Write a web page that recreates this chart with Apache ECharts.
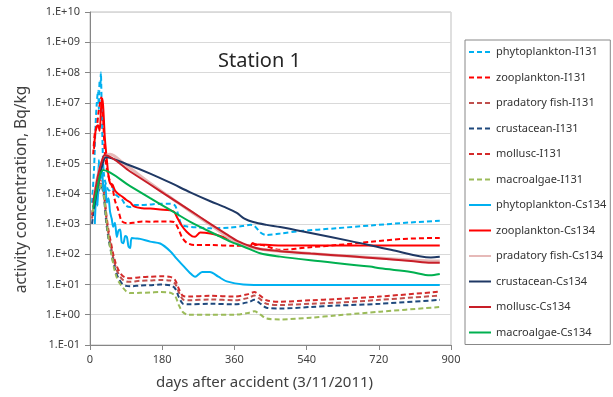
<!DOCTYPE html>
<html>
<head>
<meta charset="utf-8">
<script src="https://cdn.jsdelivr.net/npm/echarts@6/dist/echarts.min.js"></script>
<style>
html,body{margin:0;padding:0;background:#fff;}
#chart{width:613px;height:397px;}
</style>
</head>
<body>
<div id="chart"></div>
<script>
// ---- data ----
const seriesNames = [
  'phytoplankton-I131','zooplankton-I131','pradatory fish-I131','crustacean-I131','mollusc-I131','macroalgae-I131',
  'phytoplankton-Cs134','zooplankton-Cs134','pradatory fish-Cs134','crustacean-Cs134','mollusc-Cs134','macroalgae-Cs134'
];
const xTicks = [0, 180, 360, 540, 720, 900];

const phytoI131Days = [5,10,14,17,20,22,24,26,27,29,32,35,40,48,55,62,70,80,90,100,112,125,150,175,200,212,220,228,240,270,300,350,380,400,410,425,440,474,520,615,700,800,872];
const phytoI131 = [5000,63000,2e6,1e7,2.5e7,6.3e6,5e7,4e7,1e8,1e7,2e5,4e4,2e4,12600,16000,10000,8000,6300,4000,3600,4200,4200,4400,4600,4600,4000,2000,950,830,760,720,760,850,930,850,520,430,480,575,720,890,1120,1260];

const zooI131Days = [8,12,17,21,25,28,31,34,38,44,50,56,62,70,78,85,95,110,130,150,175,200,210,220,230,241,260,300,360,395,405,415,430,474,550,615,700,780,872];
const zooI131 = [2e5,1e6,1.6e6,4.5e6,1e7,1.5e7,8e6,1.3e6,1.5e5,5e4,2.5e4,1.6e4,6000,3000,1300,1100,1050,1100,1200,1180,1200,1200,1150,700,350,240,200,200,190,190,230,210,200,140,170,200,255,320,345];

const predI131Days = [5,12,20,28,34,40,46,52,58,64,70,80,90,100,125,150,175,200,212,222,232,245,300,360,395,410,425,440,474,550,615,723,872];
const predI131 = [1500,6000,15000,25000,12000,1900,480,190,76,38,24,15,12.6,12.2,13.2,13.5,14,13.5,10.6,5.3,3.2,3.0,3.2,3.0,3.6,4.3,3.2,2.3,2.1,2.3,2.5,3.1,4.3];

const crustI131Days = [5,12,20,28,34,40,46,52,58,64,70,80,90,100,125,150,175,200,212,222,232,245,300,360,395,410,425,440,474,550,615,723,872];
const crustI131 = [1000,4500,11000,18000,9000,1300,330,130,53,27,17,10.6,9,8.7,9.2,9.5,9.9,9.4,7.4,3.7,2.3,2.2,2.3,2.2,2.6,3.1,2.3,1.7,1.6,1.8,2.0,2.3,3.1];

const mollI131Days = [5,12,20,28,34,40,46,52,58,64,70,80,90,100,125,150,175,200,212,222,232,245,300,360,395,410,425,440,474,550,615,723,872];
const mollI131 = [2000,8000,20000,32000,16000,2500,630,250,100,50,32,20,16.6,16,17.4,18,18.6,17.8,14,7,4.2,4.0,4.2,4.0,4.8,5.6,4.2,3.0,2.7,3.0,3.3,4.0,5.8];

const macroI131Days = [5,10,16,24,30,36,42,48,54,60,66,72,80,90,100,125,150,175,200,212,222,232,245,300,360,395,410,425,440,474,550,615,723,872];
const macroI131 = [2500,3000,6000,15000,20000,6000,1000,250,90,35,18,12,8.5,6,5.2,5.3,5.4,5.6,5.3,4.2,2.0,1.2,1.0,1.0,1.0,1.15,1.3,1.0,0.75,0.7,0.8,0.95,1.26,1.8];

const phytoCsDays = [12,16,19,22,26,30,34,38,42,46,50,54,58,62,67,71,75,79,83,88,92,96,100,104,115,125,150,175,200,216,232,248,262,270,280,299,320,341,382,450,600,750,872];
const phytoCs = [1000,10000,4000,130000,30000,60000,12000,20000,5000,7000,2500,1500,800,1100,370,600,650,250,230,400,370,180,160,340,330,320,260,225,126,71,42,25,18,21,26,26,18,12.6,10,9.6,9.6,9.6,9.6];

const zooCsDays = [10,15,20,24,28,31,34,37,42,46,50,56,62,70,80,90,100,110,130,150,175,200,210,216,228,241,255,262,275,300,330,366,399,405,412,420,474,600,750,872];
const zooCs = [3e5,1.5e6,1.8e6,1.2e6,8e6,1.4e7,4e6,7e5,1.3e5,4e4,2.2e4,2e4,1.3e4,1e4,8000,6300,5200,3800,3300,3200,3000,2800,2500,1750,900,550,390,380,520,480,380,250,180,230,200,210,195,195,195,195];

const predCsDays = [10,20,30,40,50,60,80,100,150,200,250,300,350,380,400,440,474,550,650,750,850,872];
const predCs = [8000,40000,110000,180000,200000,180000,110000,70000,22000,7600,2600,930,320,200,166,138,126,105,85,71,60,60];

const crustCsDays = [10,20,30,40,100,150,200,250,300,340,366,385,407,440,474,550,650,750,850,872];
const crustCs = [3200,20000,80000,160000,85000,46000,23000,11000,5600,3400,2300,1500,1150,930,790,500,270,140,78,82];

const mollCsDays = [8,20,30,37,100,150,200,250,300,340,370,400,424,474,550,650,723,800,850,872];
const mollCs = [5000,40000,126000,190000,54000,20000,7400,2750,1000,460,263,182,148,126,105,85,72,60,52,52];

const macroCsDays = [8,20,33,100,150,200,250,316,350,382,424,474,550,698,723,800,848,872];
const macroCs = [3200,20000,60000,17800,7100,2900,1170,430,260,180,107,83,63,39,34,26,20,22];

// ---- build ----
function pairs(d, v){ return d.map((x,i)=>[x, v[i]]); }
const dataSets = [
  pairs(phytoI131Days, phytoI131), pairs(zooI131Days, zooI131), pairs(predI131Days, predI131),
  pairs(crustI131Days, crustI131), pairs(mollI131Days, mollI131), pairs(macroI131Days, macroI131),
  pairs(phytoCsDays, phytoCs), pairs(zooCsDays, zooCs), pairs(predCsDays, predCs),
  pairs(crustCsDays, crustCs), pairs(mollCsDays, mollCs), pairs(macroCsDays, macroCs)
];
const colors = ['#00B0F0','#FF0000','#C0504D','#1F497D','#D42A2A','#9BBB59',
                '#00B0F0','#FF0000','#E6B9B8','#1F3864','#C81E28','#00B050'];
const dashed = [true,true,true,true,true,true,false,false,false,false,false,false];
const widths = [2,2,2,2,2,2,2,2,3,2,2,2];

const series = seriesNames.map((n,i)=>({
  name: n, type: 'line', data: dataSets[i], symbol: 'none', smooth: 0.3,
  lineStyle: {color: colors[i], width: widths[i], type: dashed[i] ? [5,3] : 'solid'},
  itemStyle: {color: colors[i]}
}));

const FONT = 'Noto Sans';
const chart = echarts.init(document.getElementById('chart'), null, {renderer:'canvas'});
chart.setOption({
  animation: false,
  backgroundColor: '#fff',
  title: {text: 'Station 1', left: 213, top: 46,
    textStyle: {fontSize: 20, fontWeight: 'normal', color: '#262626', fontFamily: FONT}},
  grid: {left: 90, right: 162, top: 12, bottom: 52, show: true, borderColor: '#BFBFBF', borderWidth: 1},
  legend: {
    orient: 'vertical', left: 465, top: 40, itemWidth: 22, itemHeight: 14, itemGap: 11.5,
    padding: [5, 4, 5, 3], borderColor: '#888', borderWidth: 1,
    itemStyle: {color: 'rgba(0,0,0,0)', borderWidth: 0, opacity: 0},
    textStyle: {fontSize: 11, lineHeight: 14, color: '#333', fontFamily: FONT},
    data: seriesNames
  },
  xAxis: {
    type: 'value', min: 0, max: 900, interval: 180,
    name: 'days after accident (3/11/2011)', nameLocation: 'middle', nameGap: 30,
    nameTextStyle: {fontSize: 15, color: '#404040', fontFamily: FONT, padding: [0, 12, 0, 0]},
    axisLine: {show: true, lineStyle: {color: '#868686'}},
    axisTick: {show: true, length: 5, lineStyle: {color: '#868686'}},
    axisLabel: {fontSize: 11, color: '#404040', margin: 9, fontFamily: FONT,
      formatter: v => xTicks.includes(v) ? String(v) : ''},
    splitLine: {show: false}
  },
  yAxis: {
    type: 'log', logBase: 10, min: 0.1, max: 1e10, interval: 1,
    name: 'activity concentration, Bq/kg', nameLocation: 'middle', nameGap: 60,
    nameTextStyle: {fontSize: 15.5, color: '#404040', fontFamily: FONT, padding: [0, 22, 0, 0]},
    axisLine: {show: true, lineStyle: {color: '#868686'}},
    axisTick: {show: true, length: 5, lineStyle: {color: '#868686'}},
    axisLabel: {fontSize: 11, color: '#404040', margin: 10, fontFamily: FONT,
      formatter: v => { const e = Math.round(Math.log10(v)); return '1.E' + (e < 0 ? '-' : '+') + String(Math.abs(e)).padStart(2,'0'); }},
    splitLine: {show: true, lineStyle: {color: '#D9D9D9', width: 1}}
  },
  series: series
});
</script>
</body>
</html>
